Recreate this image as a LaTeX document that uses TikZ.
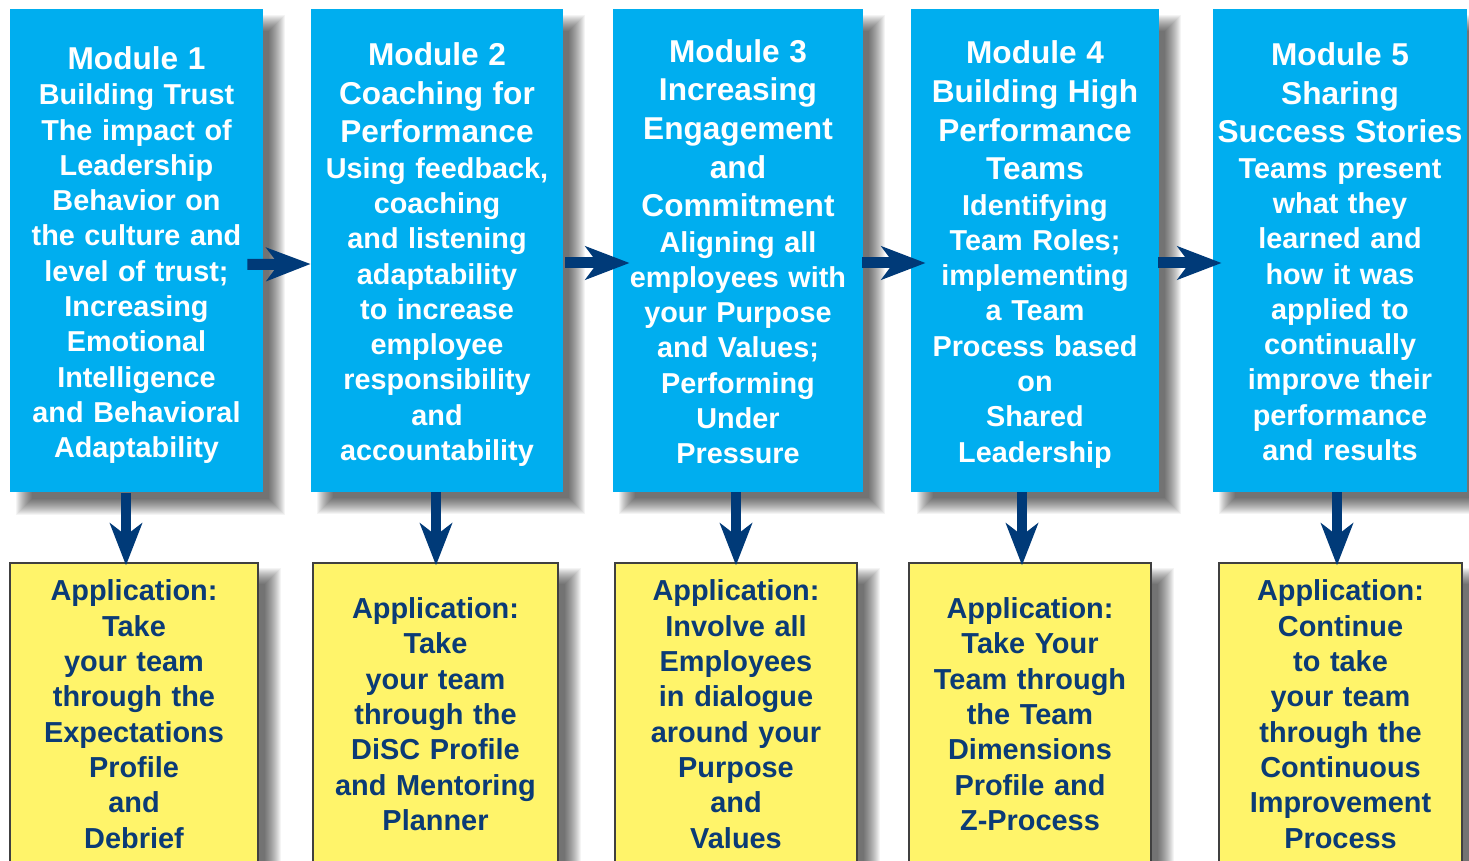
\documentclass[tikz,border=0pt]{standalone}
\usepackage{fontspec}
\setmainfont{Liberation Sans}
\usetikzlibrary{arrows.meta}
\definecolor{modblue}{HTML}{00AEEF}
\definecolor{appyellow}{HTML}{FFF46A}
\definecolor{navy}{HTML}{0B3B76}
\definecolor{arrownavy}{HTML}{003A78}
\newcommand\ttlf{\fontsize{15.8}{19.3}\selectfont}
\newcommand\dscf{\fontsize{14.4}{17.65}\selectfont}
\newcommand\btop{\rule{0pt}{15.7pt}}
\newcommand\bbot{\rule[-3.1pt]{0pt}{3.1pt}}
\newcommand\ytop{\rule{0pt}{13.85pt}}
\newcommand\ybot{\rule[-3.8pt]{0pt}{3.8pt}}
\pgfdeclarelayer{paper}
\pgfdeclarelayer{shadowlayer}
\pgfsetlayers{paper,shadowlayer,main}
\newcommand\softshadow[1]{%
  \begin{pgfonlayer}{shadowlayer}
  \foreach \e in {-4,-3.5,...,4}{
    \fill[black, opacity=0.044]
      ([xshift={(7-\e)*1pt}, yshift={(-7+\e)*1pt}]#1.north west) rectangle
      ([xshift={(7+\e)*1pt}, yshift={(-7-\e)*1pt}]#1.south east);
  }
  \end{pgfonlayer}}
\begin{document}
\begin{tikzpicture}[x=0.5pt,y=-0.5pt,
  modbox/.style={fill=modblue, text=white, font=\bfseries\dscf, align=center,
    inner sep=0pt, minimum height=241.5pt},
  appbox/.style={fill=appyellow, draw=black!75, line width=0.6pt, text=navy,
    font=\bfseries\fontsize{14.45}{17.65}\selectfont, align=center, inner sep=0pt, minimum height=151.5pt},
  hflow/.style={draw=arrownavy, line width=5.5pt, -{Stealth[length=22pt,width=16.5pt,inset=6pt,fill=arrownavy]}},
  vflow/.style={draw=arrownavy, line width=5pt, -{Stealth[length=21pt,width=16pt,inset=6pt,fill=arrownavy]}}]
\useasboundingbox (0,0) rectangle (1469,861);
\begin{pgfonlayer}{paper}
\fill[white] (0,0) rectangle (1469,861);
\end{pgfonlayer}

% module boxes
\node[modbox, minimum width=126.5pt, text width=126.5pt] (B1) at (136.5,251)
 {\ttlf\btop Module 1\par\dscf Building Trust\\The impact of\\Leadership\\Behavior on\\the culture and\\level of trust;\\Increasing\\Emotional\\Intelligence\\and Behavioral\\Adaptability\bbot};
\node[modbox, minimum width=126pt, text width=126pt] (B2) at (437,250.5)
 {\ttlf\btop Module 2\\Coaching for\\Performance\par\dscf Using feedback,\\coaching\\and listening\\adaptability\\to increase\\employee\\responsibility\\and\\accountability\bbot};
\node[modbox, minimum width=125pt, text width=125pt] (B3) at (738,250.5)
 {\ttlf\btop Module 3\\Increasing\\Engagement\\and\\Commitment\par\dscf Aligning all\\employees with\\your Purpose\\and Values;\\Performing\\Under\\Pressure\bbot};
\node[modbox, minimum width=124pt, text width=124pt] (B4) at (1035,250.5)
 {\ttlf\btop Module 4\\Building High\\Performance\\Teams\par\dscf Identifying\\Team Roles;\\implementing\\a Team\\Process based\\on\\Shared\\Leadership\bbot};
\node[modbox, minimum width=127pt, text width=127pt] (B5) at (1340,250.5)
 {\ttlf\btop Module 5\\Sharing\\Success Stories\par\dscf Teams present\\what they\\learned and\\how it was\\applied to\\continually\\improve their\\performance\\and results\bbot};

% application boxes
\node[appbox, minimum width=124pt, text width=124pt] (Y1) at (134,714.5)
 {\ytop Application:\\Take\\your team\\through the\\Expectations\\Profile\\and\\Debrief\ybot};
\node[appbox, minimum width=122.5pt, text width=122.5pt] (Y2) at (435.5,714.5)
 {\ytop Application:\\Take\\your team\\through the\\DiSC Profile\\and Mentoring\\Planner\ybot};
\node[appbox, minimum width=121pt, text width=121pt] (Y3) at (736,714.5)
 {\ytop Application:\\Involve all\\Employees\\in dialogue\\around your\\Purpose\\and\\Values\ybot};
\node[appbox, minimum width=121pt, text width=121pt] (Y4) at (1030,714.5)
 {\ytop Application:\\Take Your\\Team through\\the Team\\Dimensions\\Profile and\\Z-Process\ybot};
\node[appbox, minimum width=121.5pt, text width=121.5pt] (Y5) at (1340.5,714.5)
 {\ytop Application:\\Continue\\to take\\your team\\through the\\Continuous\\Improvement\\Process\ybot};

% shadows
\softshadow{B1}\softshadow{B2}\softshadow{B3}\softshadow{B4}\softshadow{B5}
\softshadow{Y1}\softshadow{Y2}\softshadow{Y3}\softshadow{Y4}\softshadow{Y5}

% horizontal arrows
\draw[hflow] ([xshift=-8pt,yshift=-6.75pt]B1.east) -- ([yshift=-6.75pt]B2.west);
\draw[hflow] ([xshift=1pt,yshift=-6.25pt]B2.east) -- ([xshift=8.5pt,yshift=-6.25pt]B3.west);
\draw[hflow] ([xshift=-0.5pt,yshift=-6.25pt]B3.east) -- ([xshift=7.5pt,yshift=-6.25pt]B4.west);
\draw[hflow] ([xshift=-0.5pt,yshift=-6.25pt]B4.east) -- ([xshift=4.5pt,yshift=-6.25pt]B5.west);

% vertical arrows
\draw[vflow] ([xshift=-5.25pt]B1.south) -- ([xshift=-4pt,yshift=-1.5pt]Y1.north);
\draw[vflow] ([xshift=-0.5pt]B2.south) -- ([xshift=0.25pt,yshift=-1.5pt]Y2.north);
\draw[vflow] ([xshift=-1pt]B3.south) -- ([yshift=-1.5pt]Y3.north);
\draw[vflow] ([xshift=-6.5pt]B4.south) -- ([xshift=-4pt,yshift=-1.5pt]Y4.north);
\draw[vflow] ([xshift=-1.5pt]B5.south) -- ([xshift=-1.75pt,yshift=-1.5pt]Y5.north);
\end{tikzpicture}
\end{document}
